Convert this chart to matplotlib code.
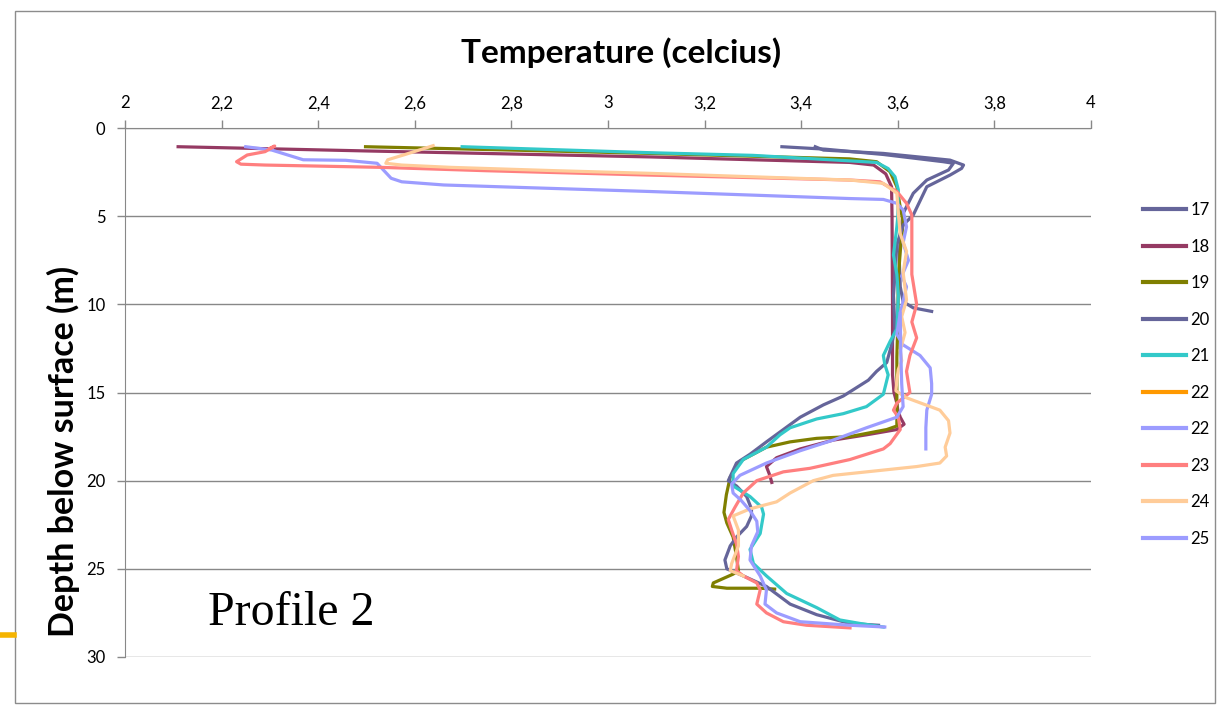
import matplotlib.pyplot as plt
from matplotlib.lines import Line2D
from matplotlib.patches import Rectangle

# Temperature profiles (celcius) vs depth below surface (m)
t17 = [3.36, 3.45, 3.57, 3.694, 3.715, 3.705, 3.66, 3.632, 3.611, 3.605, 3.603, 3.605, 3.611, 3.632, 3.67]
d17 = [1.06, 1.2, 1.5, 1.91, 2.0, 2.38, 2.95, 3.7, 4.84, 6.0, 7.5, 9.0, 9.85, 10.2, 10.4]

t18 = [2.11, 2.5, 3.09, 3.3, 3.5, 3.55, 3.575, 3.587, 3.588, 3.589, 3.589, 3.592, 3.598, 3.60, 3.605,
       3.613, 3.598, 3.535, 3.466, 3.398, 3.349, 3.328, 3.335, 3.339]
d18 = [1.06, 1.3, 1.64, 1.8, 1.95, 2.1, 2.6, 3.33, 5.0, 10.0, 14.0, 15.0, 15.6, 16.0, 16.4,
       16.8, 17.1, 17.4, 17.7, 18.2, 18.7, 19.2, 19.7, 20.1]

t19 = [2.498, 2.8, 3.087, 3.3, 3.5, 3.556, 3.584, 3.598, 3.605, 3.611, 3.605, 3.601, 3.600, 3.598,
       3.598, 3.598, 3.577, 3.501, 3.432, 3.377, 3.328, 3.273, 3.253, 3.245, 3.24, 3.246, 3.259,
       3.266, 3.27, 3.259, 3.218, 3.216, 3.246, 3.315, 3.345]
d19 = [1.06, 1.25, 1.44, 1.6, 1.75, 1.91, 2.48, 3.33, 4.5, 5.3, 7.0, 8.5, 11.0, 13.0,
       15.0, 16.9, 17.1, 17.5, 17.6, 17.8, 18.1, 18.9, 19.8, 20.8, 21.8, 22.4, 23.2,
       24.3, 25.1, 25.3, 25.8, 26.0, 26.1, 26.1, 26.15]

t20 = [3.429, 3.446, 3.57, 3.708, 3.736, 3.732, 3.708, 3.66, 3.632, 3.611, 3.598, 3.594, 3.591,
       3.594, 3.587, 3.577, 3.556, 3.539, 3.487, 3.446, 3.398, 3.363, 3.328, 3.294, 3.266, 3.249,
       3.266, 3.287, 3.297, 3.297, 3.287, 3.266, 3.253, 3.242, 3.246, 3.28, 3.328, 3.377, 3.432,
       3.501, 3.56]
d20 = [1.06, 1.25, 1.44, 1.82, 2.1, 2.29, 2.67, 3.33, 4.93, 5.5, 6.6, 8.3, 9.5,
       11.4, 12.3, 13.3, 13.8, 14.3, 15.2, 15.7, 16.4, 17.1, 17.8, 18.5, 19.0, 20.0,
       20.3, 20.9, 21.6, 22.0, 22.6, 23.2, 23.7, 24.5, 25.0, 25.4, 26.0, 27.0, 27.6,
       28.1, 28.2]

t21 = [2.698, 3.087, 3.3, 3.556, 3.58, 3.594, 3.601, 3.600, 3.598, 3.591, 3.598, 3.601, 3.598,
       3.584, 3.57, 3.573, 3.58, 3.57, 3.535, 3.487, 3.432, 3.377, 3.356, 3.328, 3.28, 3.259,
       3.259, 3.294, 3.318, 3.322, 3.315, 3.294, 3.301, 3.328, 3.37, 3.432, 3.48, 3.522, 3.57]
d21 = [1.06, 1.4, 1.55, 1.95, 2.3, 2.76, 3.5, 5.0, 5.6, 7.2, 8.3, 9.5, 11.4,
       12.1, 12.9, 13.4, 14.0, 15.1, 15.8, 16.2, 16.5, 17.0, 17.4, 18.1, 18.8, 19.6,
       20.3, 20.9, 21.5, 21.9, 23.0, 23.9, 24.7, 25.4, 26.4, 27.2, 27.9, 28.1, 28.3]

t22a = []
d22a = []

t22b = [2.25, 2.304, 2.369, 2.457, 2.522, 2.551, 2.573, 2.66, 2.82, 3.087, 3.501, 3.57, 3.598,
        3.611, 3.618, 3.611, 3.622, 3.608, 3.618, 3.605, 3.598, 3.611, 3.646, 3.667, 3.67, 3.67,
        3.66, 3.658, 3.658]
d22b = [1.06, 1.25, 1.8, 1.83, 2.0, 2.85, 3.05, 3.23, 3.37, 3.6, 4.0, 4.05, 4.27,
        4.65, 5.6, 6.5, 7.5, 8.4, 9.0, 10.5, 11.7, 12.3, 12.9, 13.6, 14.5, 15.1,
        16.0, 17.0, 18.2]

t23 = [2.30, 2.31, 2.29, 2.253, 2.231, 2.24, 2.29, 2.384, 2.529, 2.747, 3.087, 3.501, 3.563,
       3.598, 3.618, 3.629, 3.629, 3.629, 3.639, 3.629, 3.639, 3.625, 3.618, 3.622, 3.625, 3.598,
       3.591, 3.601, 3.605, 3.584, 3.57, 3.501, 3.418, 3.363, 3.308, 3.28, 3.263, 3.249, 3.256,
       3.266, 3.27, 3.266, 3.28, 3.308, 3.315, 3.308, 3.328, 3.363, 3.411, 3.501]
d23 = [1.15, 1.02, 1.34, 1.53, 1.91, 2.05, 2.1, 2.15, 2.23, 2.42, 2.67, 2.95, 3.05,
       3.6, 4.27, 4.93, 7.0, 8.3, 10.0, 11.0, 11.9, 12.9, 13.8, 14.5, 15.0, 15.6,
       16.0, 16.4, 17.1, 17.9, 18.2, 18.8, 19.3, 19.5, 20.0, 20.7, 21.5, 22.2, 22.8,
       23.6, 24.3, 25.1, 25.4, 25.8, 26.2, 27.0, 27.5, 28.0, 28.2, 28.35]

t24 = [2.638, 2.58, 2.544, 2.54, 2.573, 2.674, 2.892, 3.087, 3.501, 3.57, 3.598, 3.601, 3.605,
       3.618, 3.611, 3.618, 3.608, 3.615, 3.605, 3.608, 3.601, 3.598, 3.596, 3.618, 3.687, 3.705,
       3.708, 3.698, 3.701, 3.687, 3.639, 3.57, 3.466, 3.425, 3.377, 3.349, 3.294, 3.259, 3.27,
       3.27, 3.256, 3.253, 3.28]
d24 = [1.0, 1.5, 1.8, 2.0, 2.1, 2.23, 2.42, 2.57, 2.95, 3.14, 3.7, 4.84, 6.0,
       7.0, 8.2, 9.75, 10.7, 11.6, 12.6, 13.2, 13.7, 14.3, 14.9, 15.3, 16.0, 16.6,
       17.3, 18.1, 18.6, 19.0, 19.2, 19.4, 19.7, 20.0, 20.7, 21.2, 21.6, 22.0, 22.8,
       23.7, 24.7, 25.1, 25.4]

t25 = [3.605, 3.606, 3.608, 3.611, 3.598, 3.535, 3.466, 3.398, 3.328, 3.273, 3.256, 3.259, 3.275,
       3.294, 3.308, 3.31, 3.297, 3.294, 3.315, 3.328, 3.325, 3.349, 3.398, 3.501, 3.573]
d25 = [10.5, 12.6, 14.5, 15.8, 16.4, 17.0, 17.7, 18.3, 19.0, 19.7, 20.2, 20.7, 21.1,
       21.7, 22.3, 22.9, 23.7, 24.5, 25.4, 26.2, 27.0, 27.5, 28.0, 28.2, 28.3]

labels = ["17", "18", "19", "20", "21", "22", "22", "23", "24", "25"]
temps = [t17, t18, t19, t20, t21, t22a, t22b, t23, t24, t25]
depths = [d17, d18, d19, d20, d21, d22a, d22b, d23, d24, d25]
colors = ["#65659A", "#953A63", "#7F7F00", "#65659A", "#33C9C9",
          "#FF9900", "#9C9CFF", "#FF7F7F", "#FFCC99", "#9C9CFF"]

xticks = [2, 2.2, 2.4, 2.6, 2.8, 3, 3.2, 3.4, 3.6, 3.8, 4]
xtick_labels = ["2", "2,2", "2,4", "2,6", "2,8", "3", "3,2", "3,4", "3,6", "3,8", "4"]
yticks = [0, 5, 10, 15, 20, 25, 30]

plt.rcParams["font.family"] = ["Lato", "DejaVu Sans"]

fig = plt.figure(figsize=(12.17, 7.05), dpi=100)
ax = fig.add_axes([0.1027, 0.0681, 0.7938, 0.7503])

for t, d, c, lab in zip(temps, depths, colors, labels):
    ax.plot(t, d, color=c, lw=2.3, label=lab, solid_joinstyle="round")

ax.set_xlim(2, 4)
ax.set_ylim(30, 0)
ax.xaxis.tick_top()
ax.set_xticks(xticks)
ax.set_xticklabels(xtick_labels)
ax.set_yticks(yticks)
ax.tick_params(axis="both", colors="#888888", labelcolor="black", labelsize=12,
               length=6, width=1, direction="out")
ax.tick_params(axis="x", pad=6)
ax.tick_params(axis="y", pad=8)
for s in ["right", "bottom"]:
    ax.spines[s].set_visible(False)
for s in ["top", "left"]:
    ax.spines[s].set_color("#888888")
ax.yaxis.grid(True, color="#888888", lw=1)
ax.set_axisbelow(True)

fig.text(0.510, 0.926, "Temperature (celcius)", ha="center", va="center",
         fontsize=24, fontweight="bold")
fig.text(0.052, 0.36, "Depth below surface (m)", ha="center", va="center",
         rotation=90, fontsize=24.5, fontweight="bold")
fig.text(0.171, 0.113, "Profile 2", fontsize=34.5, family="Liberation Serif")

handles = [Line2D([], [], color=c, lw=3) for c in colors]
fig.legend(handles, labels, loc="center left", bbox_to_anchor=(0.927, 0.469),
           frameon=False, fontsize=12, handlelength=2.6, handletextpad=0.25,
           labelspacing=1.23)

# outer chart frame and the orange stub at the left edge
fig.add_artist(Rectangle((0.0123, 0.003), 0.986, 0.981, transform=fig.transFigure,
                         fill=False, ec="#8c8c8c", lw=1))
fig.add_artist(Line2D([0, 0.0115], [0.099, 0.099], transform=fig.transFigure,
                      color="#F5B400", lw=4))

fig.savefig("out.png", dpi=100)
